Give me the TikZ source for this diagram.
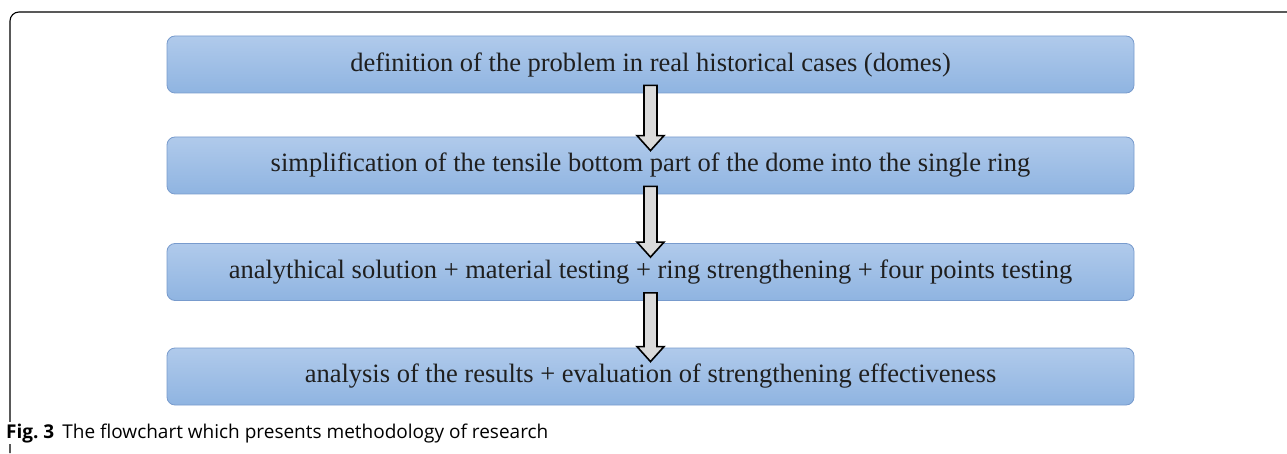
\documentclass[tikz,border=0pt]{standalone}
\usepackage{fontspec}
\setmainfont{Liberation Serif}
\newfontfamily\captionfont{Open Sans}
\usetikzlibrary{calc, positioning}
\definecolor{boxtop}{RGB}{176,202,235}
\definecolor{boxbottom}{RGB}{143,180,225}
\definecolor{boxline}{RGB}{120,155,205}
\definecolor{arrowfill}{RGB}{218,218,218}
\tikzset{
    stage/.style={rounded corners=8pt, draw=boxline, line width=0.8pt,
        top color=boxtop, bottom color=boxbottom,
        minimum width=967pt, minimum height=57pt, inner sep=0pt,
        font=\fontsize{26.5}{30}\selectfont, text=black!88},
    flowarrow/.style={draw=black, line width=1.6pt, fill=arrowfill, line join=miter},
    frameline/.style={line width=1.1pt, rounded corners=9pt},
}
% block arrow from one stage into the next
\newcommand{\stagearrow}[2]{%
    \path (#1.south) ++(0,8pt) coordinate (#1-out);
    \path (#2.north) ++(0,-14pt) coordinate (#2-in);
    \draw[flowarrow] let \p1=(#1-out), \p2=(#2-in) in
        (\x1-6.5pt,\y1) -- (\x1-6.5pt,\y2+15pt) -- (\x1-13.5pt,\y2+15pt) -- (\x2,\y2)
        -- (\x1+13.5pt,\y2+15pt) -- (\x1+6.5pt,\y2+15pt) -- (\x1+6.5pt,\y1) -- cycle;
}

\begin{document}
\begin{tikzpicture}[x=1pt, y=1pt]
\useasboundingbox (0,0) rectangle (1287,453);

\draw[frameline] (10,0) -- (10,441) -- (1287,441);

\node[stage] (problem) at (650.5,388.5) {definition of the problem in real historical cases (domes)};
\node[stage] (simplify) at (650.5,287.5) {simplification of the tensile bottom part of the dome into the single ring};
\node[stage] (solution) at (650.5,181) {analythical solution + material testing + ring strengthening + four points testing};
\node[stage] (results) at (650.5,76.5) {analysis of the results + evaluation of strengthening effectiveness};

\stagearrow{problem}{simplify}
\stagearrow{simplify}{solution}
\stagearrow{solution}{results}

\node[anchor=base west, inner sep=1pt, fill=white, font=\captionfont\fontsize{19}{22}\selectfont] (caption) at (5,15)
    {\textbf{Fig.~3}\hspace{8pt}The flowchart which presents methodology of research};

\end{tikzpicture}
\end{document}
